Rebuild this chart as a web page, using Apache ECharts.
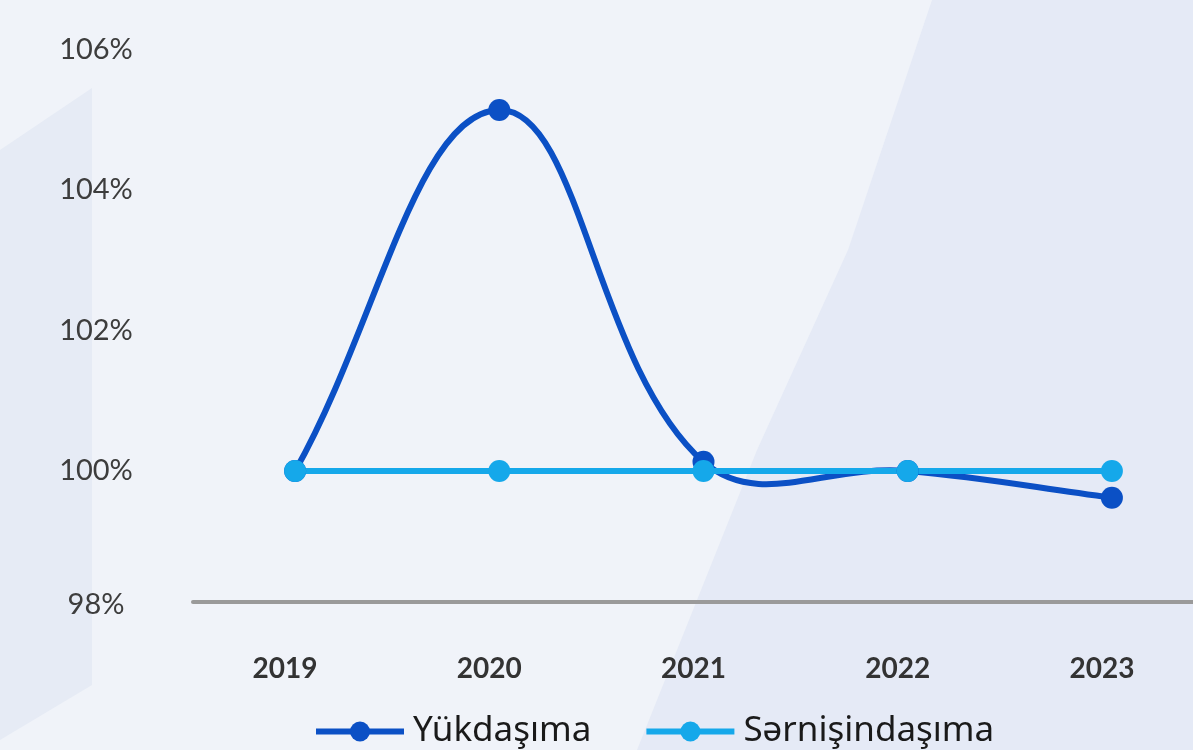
<!DOCTYPE html>
<html><head><meta charset="utf-8">
<script src="https://cdn.jsdelivr.net/npm/echarts@6/dist/echarts.min.js"></script>
<style>html,body{margin:0;padding:0;background:#f0f3f9}#c{width:1193px;height:750px}</style>
</head><body><div id="c"></div>
<script>
const categories = ['2019', '2020', '2021', '2022', '2023'];
const yukdasima = [100, 105.14, 100.13, 100.0, 99.62];
const sernisindasima = [100, 100, 100, 100, 100];
const yTicks = [98, 100, 102, 104, 106];

const DARK = '#0b50c5', LIGHT = '#15a8ea';
const TENSION = 0.4;

function splineCtrl(prev, cur, next, t) {
  const d01 = Math.hypot(cur[0] - prev[0], cur[1] - prev[1]);
  const d12 = Math.hypot(next[0] - cur[0], next[1] - cur[1]);
  let s01 = d01 / (d01 + d12), s12 = d12 / (d01 + d12);
  if (!isFinite(s01)) s01 = 0;
  if (!isFinite(s12)) s12 = 0;
  const fa = t * s01, fb = t * s12;
  return {
    prev: [cur[0] - fa * (next[0] - prev[0]), cur[1] - fa * (next[1] - prev[1])],
    next: [cur[0] + fb * (next[0] - prev[0]), cur[1] + fb * (next[1] - prev[1])]
  };
}

const chart = echarts.init(document.getElementById('c'));
chart.setOption({
  backgroundColor: '#f0f3f9',
  animation: false,
  graphic: [
    { type: 'polygon', z: -10, silent: true,
      shape: { points: [[0,150],[92,88],[92,685],[0,740]] },
      style: { fill: '#e6ebf5' } },
    { type: 'polygon', z: -10, silent: true,
      shape: { points: [[932,0],[1193,0],[1193,750],[637,750],[697,600],[757,450],[848,250],[895,110]] },
      style: { fill: '#e5eaf6' } }
  ],
  grid: { left: 193, width: 1021, top: 49.5, bottom: 138.5, containLabel: false, outerBoundsMode: 'none' },
  legend: {
    left: 308, top: 709,
    itemWidth: 88, itemHeight: 25, itemGap: 52,
    lineStyle: { opacity: 1, width: 6 },
    textStyle: { fontFamily: 'Noto Sans', fontSize: 35, color: '#1a1a1a', padding: [0,0,0,4] },
    data: ['Yükdaşıma', 'Sərnişindaşıma']
  },
  xAxis: {
    type: 'category', data: categories, boundaryGap: true, offset: -9.5,
    axisLine: { lineStyle: { color: '#9a9a9a', width: 4 } },
    axisTick: { show: false },
    axisLabel: { fontFamily: 'Lato', fontWeight: 'bold', fontSize: 28, color: '#333', margin: 53, padding: [0, 20, 0, 0] },
    splitLine: { show: false }
  },
  yAxis: {
    type: 'value', min: yTicks[0], max: yTicks[yTicks.length-1], interval: 2,
    axisLine: { show: false }, axisTick: { show: false }, splitLine: { show: false },
    axisLabel: {
      fontFamily: 'Lato', fontSize: 29, color: '#3d3d3d', align: 'center', margin: 97,
      formatter: v => v === yTicks[0] ? '{low|' + v + '%}' : v + '%',
      rich: { low: { fontFamily: 'Lato', fontSize: 29, color: '#3d3d3d', padding: [0,0,13,0] } }
    }
  },
  series: [
    { name: 'Yükdaşıma curve', type: 'custom', silent: true,
      data: yukdasima.map((v, i) => [i, v]),
      encode: { x: 0, y: 1 },
      renderItem: function (params, api) {
        const i = params.dataIndex, n = yukdasima.length;
        if (i >= n - 1) return null;
        const P = yukdasima.map((v, j) => api.coord([j, v]));
        const c0 = splineCtrl(P[Math.max(i - 1, 0)], P[i], P[i + 1], TENSION);
        const c1 = splineCtrl(P[i], P[i + 1], P[Math.min(i + 2, n - 1)], TENSION);
        return {
          type: 'bezierCurve',
          shape: { x1: P[i][0], y1: P[i][1], cpx1: c0.next[0], cpy1: c0.next[1],
                   cpx2: c1.prev[0], cpy2: c1.prev[1], x2: P[i + 1][0], y2: P[i + 1][1] },
          style: { stroke: DARK, lineWidth: 6, fill: null, lineCap: 'round' }
        };
      }
    },
    { name: 'Yükdaşıma', type: 'line', data: yukdasima,
      symbol: 'circle', symbolSize: 22,
      lineStyle: { width: 6, color: DARK, opacity: 0 }, itemStyle: { color: DARK } },
    { name: 'Sərnişindaşıma', type: 'line', data: sernisindasima,
      symbol: 'circle', symbolSize: 22,
      lineStyle: { width: 6, color: LIGHT }, itemStyle: { color: LIGHT } }
  ]
});
</script></body></html>
